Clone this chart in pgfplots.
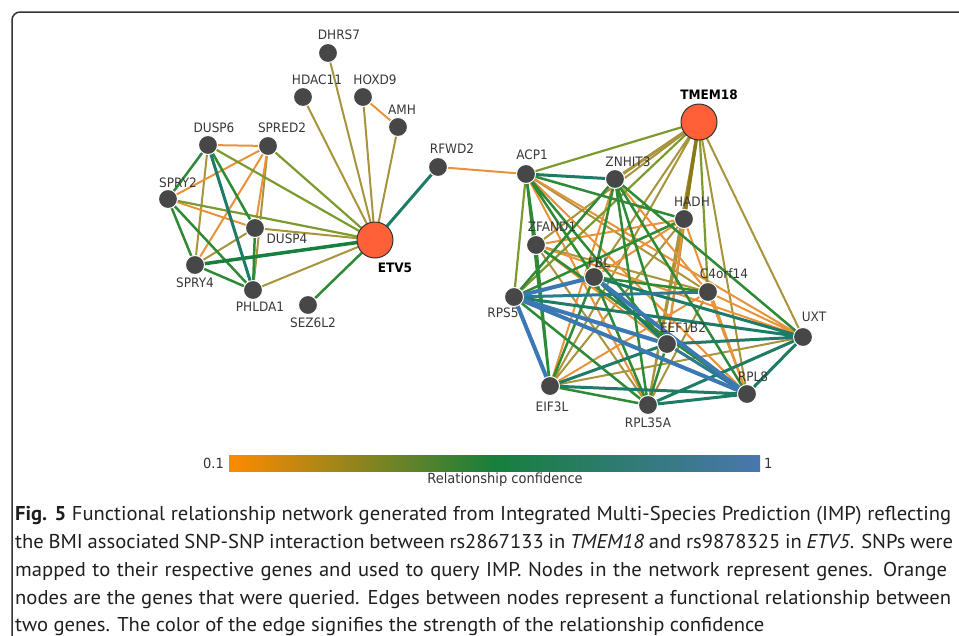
\documentclass[border=0pt]{standalone}
\usepackage{pgfplots}
\pgfplotsset{compat=1.18}
\usepackage{fontspec}
\newfontfamily\capfont[FakeStretch=1.03]{PT Sans}
\newfontfamily\lblfont[FakeStretch=0.93]{DejaVu Sans}
\definecolor{eblue}{HTML}{3C78B4}
\definecolor{eblueteal}{HTML}{2B7A92}
\definecolor{eteal}{HTML}{1E7B66}
\definecolor{egreen}{HTML}{2F8A36}
\definecolor{edgreen}{HTML}{18803E}
\definecolor{eorange}{HTML}{E8923A}
\definecolor{eolive}{HTML}{A8943C}
\definecolor{eolivegreen}{HTML}{7C9A2E}
\definecolor{edolive}{HTML}{8C7A18}
\definecolor{nodegray}{HTML}{474747}
\definecolor{qnode}{HTML}{FF6038}
\definecolor{cbor}{HTML}{FF8A00}
\definecolor{cbgr}{HTML}{177F3C}
\definecolor{cbbl}{HTML}{4977AD}
\begin{document}
\begin{tikzpicture}
\begin{axis}[width=959pt, height=635pt, scale only axis, at={(0,0)}, anchor=south west,
  xmin=0, xmax=959, ymin=0, ymax=635, y dir=reverse, hide axis, clip=false,
  every axis plot/.append style={line cap=round}]
% frame
\draw[line width=1.5pt, color=black!80, rounded corners=8pt] (axis cs:12,660) -- (axis cs:12,12) -- (axis cs:990,12);
% ---------- edges ----------
% olive
\addplot[eolive, line width=2pt, no markers, unbounded coords=jump] coordinates {
(699,122)(536,245) (nan,nan) (699,122)(594,277) (nan,nan) (699,122)(550,386) (nan,nan)
(699,122)(648,405) (nan,nan) (699,122)(667,344) (nan,nan) (699,122)(747,394) (nan,nan)
(699,122)(803,337) (nan,nan) (684,219)(648,405) (nan,nan) (536,245)(648,405) (nan,nan)
(708,292)(648,405) (nan,nan) (328,53)(375,240) (nan,nan) (303,97)(375,240) (nan,nan)
(363,97)(375,240) (nan,nan) (398,127)(375,240) (nan,nan) (255,228)(375,240) (nan,nan)
(253,290)(375,240) (nan,nan) (208,145)(195,265) (nan,nan) (255,228)(195,265) (nan,nan)
(268,146)(253,290) (nan,nan) (550,386)(803,337) (nan,nan) (526,174)(708,292) (nan,nan)
(684,219)(550,386) (nan,nan) (536,245)(708,292)};
\addplot[eolive, line width=3pt, no markers] coordinates {(699,122)(615,179)};
% orange
\addplot[eorange, line width=2pt, no markers, unbounded coords=jump] coordinates {
(526,174)(438,167) (nan,nan) (526,174)(747,394) (nan,nan)
(526,174)(648,405) (nan,nan) (615,179)(708,292) (nan,nan) (684,219)(536,245) (nan,nan)
(684,219)(747,394) (nan,nan) (536,245)(667,344) (nan,nan) (550,386)(708,292) (nan,nan)
(708,292)(747,394) (nan,nan) (684,219)(667,344) (nan,nan) (536,245)(803,337) (nan,nan)
(526,174)(803,337) (nan,nan) (708,292)(803,337) (nan,nan) (594,277)(684,219) (nan,nan)
(550,386)(615,179) (nan,nan)
(363,97)(398,127) (nan,nan) (208,145)(268,146) (nan,nan) (268,146)(168,199) (nan,nan)
(268,146)(195,265) (nan,nan) (268,146)(255,228) (nan,nan) (168,199)(255,228)};
% olive green
\addplot[eolivegreen, line width=2.2pt, no markers, unbounded coords=jump] coordinates {
(699,122)(526,174) (nan,nan) (699,122)(514,297) (nan,nan) (699,122)(708,292) (nan,nan)
(526,174)(514,297) (nan,nan) (208,145)(375,240) (nan,nan) (268,146)(375,240) (nan,nan)
(168,199)(375,240)};
\addplot[edolive, line width=3.5pt, no markers] coordinates {(699,122)(684,219)};
% green
\addplot[egreen, line width=2.5pt, no markers, unbounded coords=jump] coordinates {
(526,174)(594,277) (nan,nan) (526,174)(550,386) (nan,nan) (526,174)(667,344) (nan,nan)
(526,174)(684,219) (nan,nan) (615,179)(594,277) (nan,nan) (615,179)(514,297) (nan,nan)
(615,179)(667,344) (nan,nan) (615,179)(747,394) (nan,nan) (615,179)(648,405) (nan,nan)
(684,219)(514,297) (nan,nan) (594,277)(550,386) (nan,nan)
(594,277)(648,405) (nan,nan) (594,277)(708,292) (nan,nan) (536,245)(747,394) (nan,nan)
(514,297)(648,405) (nan,nan) (550,386)(648,405) (nan,nan)
(526,174)(536,245) (nan,nan) (615,179)(803,337) (nan,nan) (667,344)(648,405) (nan,nan)
(536,245)(550,386) (nan,nan)
(208,145)(168,199) (nan,nan) (208,145)(255,228) (nan,nan) (168,199)(195,265) (nan,nan)
(168,199)(253,290) (nan,nan) (255,228)(253,290) (nan,nan) (195,265)(253,290) (nan,nan)
(308,305)(375,240)};
\addplot[edgreen, line width=3.5pt, no markers] coordinates {(195,265)(375,240)};
% teal
\addplot[eteal, line width=3pt, no markers, unbounded coords=jump] coordinates {
(526,174)(615,179) (nan,nan) (803,337)(747,394) (nan,nan) (514,297)(803,337) (nan,nan)
(550,386)(747,394) (nan,nan) (648,405)(747,394) (nan,nan)
(648,405)(803,337) (nan,nan) (667,344)(803,337) (nan,nan) (594,277)(803,337) (nan,nan)
(550,386)(667,344) (nan,nan) (594,277)(667,344) (nan,nan)
(438,167)(375,240) (nan,nan) (208,145)(253,290)};
% blue
\addplot[eblueteal, line width=3pt, no markers, unbounded coords=jump] coordinates {
(514,297)(708,292) (nan,nan) (667,344)(747,394)};
\addplot[eblue, line width=4pt, no markers, unbounded coords=jump] coordinates {
(514,297)(594,277) (nan,nan) (514,297)(667,344) (nan,nan) (514,297)(747,394) (nan,nan)
(514,297)(550,386) (nan,nan) (594,277)(747,394)};
% ---------- nodes ----------
\addplot[only marks, mark=*, mark size=9.5pt, mark options={fill=nodegray, draw=white, line width=1pt}] coordinates {
(526,174)(615,179)(684,219)(536,245)(594,277)(708,292)(514,297)(667,344)(803,337)
(550,386)(747,394)(648,405)
(328,53)(303,97)(363,97)(398,127)(208,145)(268,146)(438,167)(168,199)(255,228)
(195,265)(253,290)(308,305)};
\addplot[only marks, mark=*, mark size=18pt, mark options={fill=qnode, draw=black!80, line width=1pt}] coordinates {
(699,122)(375,240)};
% ---------- labels ----------
\begin{scope}[every node/.style={font=\lblfont\fontsize{13}{13}\selectfont, text=black!78, inner sep=0pt}]
\node at (axis cs:339,35) {DHRS7};
\node at (axis cs:317,80) {HDAC11};
\node at (axis cs:375,80) {HOXD9};
\node at (axis cs:402,110) {AMH};
\node at (axis cs:214,128) {DUSP6};
\node at (axis cs:282,128) {SPRED2};
\node at (axis cs:452,149) {RFWD2};
\node at (axis cs:178,183) {SPRY2};
\node at (axis cs:287,239) {DUSP4};
\node at (axis cs:195,283) {SPRY4};
\node at (axis cs:260,307) {PHLDA1};
\node at (axis cs:313,323) {SEZ6L2};
\node at (axis cs:532,155) {ACP1};
\node at (axis cs:628,162) {ZNHIT3};
\node at (axis cs:692,202) {HADH};
\node at (axis cs:552,227) {ZFAND1};
\node at (axis cs:599,263) {FBL};
\node at (axis cs:724,274) {C4orf14};
\node at (axis cs:503,313) {RPS5};
\node at (axis cs:683,328) {EEF1B2};
\node at (axis cs:814,317) {UXT};
\node at (axis cs:552,407) {EIF3L};
\node at (axis cs:753,377) {RPL8};
\node at (axis cs:648,423) {RPL35A};
\node[text=black] at (axis cs:395,268) {\bfseries ETV5};
\node[text=black] at (axis cs:709,95) {\bfseries TMEM18};
\end{scope}
% ---------- colour bar ----------
\shade[left color=cbor, right color=cbbl, middle color=cbgr] (axis cs:229,455) rectangle (axis cs:760,471);
\begin{scope}[every node/.style={font=\lblfont\fontsize{14}{14}\selectfont, text=black!80, inner sep=0pt}]
\node[anchor=east] at (axis cs:224,463) {0.1};
\node[anchor=west] at (axis cs:764,463) {1};
\node at (axis cs:505,480) {Relationship confidence};
\end{scope}
% ---------- caption ----------
\begin{scope}[every node/.style={font=\capfont\fontsize{20}{20}\selectfont, text=black!88, inner sep=0pt, anchor=base west}]
\node at (axis cs:15,520) {\makebox[936pt][s]{\textbf{Fig. 5} Functional relationship network generated from Integrated Multi-Species Prediction (IMP) reflecting}};
\node at (axis cs:15,548) {\makebox[938pt][s]{the BMI associated SNP-SNP interaction between rs2867133 in \textit{TMEM18} and rs9878325 in \textit{ETV5}. SNPs were}};
\node at (axis cs:15,576) {\makebox[932pt][s]{mapped to their respective genes and used to query IMP. Nodes in the network represent genes. Orange}};
\node at (axis cs:15,604) {\makebox[936pt][s]{nodes are the genes that were queried. Edges between nodes represent a functional relationship between}};
\node at (axis cs:15,631) {two genes. The color of the edge signifies the strength of the relationship confidence};
\end{scope}
\end{axis}
\pgfresetboundingbox
\path[use as bounding box] (current axis.south west) rectangle (current axis.north east);
\end{tikzpicture}
\end{document}
